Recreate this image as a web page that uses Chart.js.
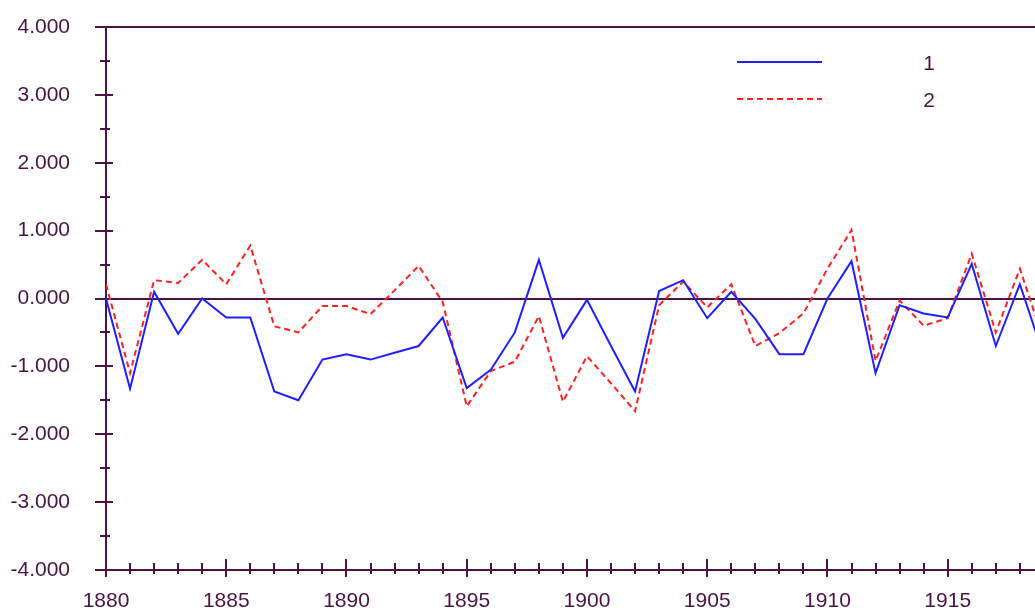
<!DOCTYPE html>
<html>
<head>
<meta charset="utf-8">
<script src="https://cdn.jsdelivr.net/npm/chart.js@4.4.0/dist/chart.umd.min.js"></script>
<style>
body{margin:0;background:#fff;}
</style>
</head>
<body>
<canvas id="mycanvas" width="1035" height="612"></canvas>
<script>
var years = [1880,1881,1882,1883,1884,1885,1886,1887,1888,1889,
	1890,1891,1892,1893,1894,1895,1896,1897,1898,1899,
	1900,1901,1902,1903,1904,1905,1906,1907,1908,1909,
	1910,1911,1912,1913,1914,1915,1916,1917,1918,1919];
var series1 = [0.0,-1.33,0.1,-0.52,0.0,-0.28,-0.28,-1.37,-1.5,-0.9,
	-0.82,-0.9,-0.8,-0.7,-0.28,-1.32,-1.05,-0.5,0.57,-0.58,
	-0.02,-0.7,-1.37,0.11,0.27,-0.29,0.1,-0.3,-0.82,-0.82,
	0.0,0.55,-1.1,-0.1,-0.22,-0.28,0.51,-0.7,0.21,-0.85];
var series2 = [0.21,-1.1,0.27,0.23,0.57,0.21,0.78,-0.41,-0.5,-0.11,
	-0.11,-0.23,0.12,0.48,-0.05,-1.59,-1.07,-0.93,-0.26,-1.52,
	-0.85,-1.25,-1.66,-0.1,0.25,-0.13,0.21,-0.7,-0.51,-0.22,
	0.44,1.01,-0.92,-0.03,-0.4,-0.29,0.66,-0.5,0.44,-0.63];
var seriesNames = ['1','2'];
var yMin = -4, yMax = 4;
var xMin = 1880, xMax = 1918.63;

var axisColor = '#4a1446';
var fontFamily = '"Liberation Sans", Arial, sans-serif';

function toPoints(vals) {
	var pts = [];
	for (var i in years) {
		pts.push({x: years[i], y: vals[i]});
	}
	return pts;
}

var axesPlugin = {
	id: 'axes',
	beforeDatasetsDraw: function(chart) {
		var ctx = chart.ctx;
		var xs = chart.scales.x, ys = chart.scales.y;
		var a = chart.chartArea;
		var x0 = Math.round(xs.getPixelForValue(xMin));
		var yb = Math.round(ys.getPixelForValue(yMin));
		var yt = Math.round(ys.getPixelForValue(yMax));
		var yz = Math.round(ys.getPixelForValue(0));
		ctx.save();
		ctx.strokeStyle = axisColor;
		ctx.lineWidth = 2;
		ctx.beginPath();
		// frame lines
		ctx.moveTo(x0, yt); ctx.lineTo(x0, yb);
		ctx.moveTo(x0 - 11, yb); ctx.lineTo(a.right, yb);
		ctx.moveTo(x0 - 11, yt); ctx.lineTo(a.right, yt);
		ctx.moveTo(x0 - 11, yz); ctx.lineTo(a.right, yz);
		// y ticks
		for (var v = yMin; v <= yMax; v += 0.5) {
			var py = Math.round(ys.getPixelForValue(v));
			if (v % 1 === 0) {
				ctx.moveTo(x0 - 11, py); ctx.lineTo(x0 + 7, py);
			} else {
				ctx.moveTo(x0 - 6, py); ctx.lineTo(x0 + 4, py);
			}
		}
		// x ticks
		for (var yr = xMin; yr <= xMax; yr++) {
			var px = Math.round(xs.getPixelForValue(yr));
			if (yr % 5 === 0) {
				ctx.moveTo(px, yb - 11); ctx.lineTo(px, yb + 7);
			} else {
				ctx.moveTo(px, yb - 7); ctx.lineTo(px, yb + 4);
			}
		}
		ctx.stroke();
		ctx.restore();
	},
	afterDraw: function(chart) {
		var ctx = chart.ctx;
		ctx.save();
		var rows = [{y: 62, color: '#2020ff', dash: []}, {y: 99, color: '#ff2020', dash: [6, 4]}];
		for (var i = 0; i < rows.length; i++) {
			ctx.strokeStyle = rows[i].color;
			ctx.lineWidth = 2;
			ctx.setLineDash(rows[i].dash);
			ctx.beginPath();
			ctx.moveTo(737, rows[i].y);
			ctx.lineTo(822, rows[i].y);
			ctx.stroke();
			ctx.setLineDash([]);
			ctx.fillStyle = axisColor;
			ctx.font = '21px ' + fontFamily;
			ctx.textAlign = 'center';
			ctx.textBaseline = 'middle';
			ctx.fillText(seriesNames[i], 929, rows[i].y + 2);
		}
		ctx.restore();
	}
};

var ctx = document.getElementById('mycanvas');

var lineChart = new Chart(ctx, {
	type: 'line',
	data: {
		datasets: [
			{
				label: seriesNames[0],
				data: toPoints(series1),
				borderColor: '#2020ff',
				borderWidth: 2,
				pointRadius: 0,
				tension: 0,
				fill: false
			},
			{
				label: seriesNames[1],
				data: toPoints(series2),
				borderColor: '#ff2020',
				borderWidth: 2,
				borderDash: [6, 4],
				pointRadius: 0,
				tension: 0,
				fill: false
			}
		]
	},
	options: {
		responsive: false,
		animation: false,
		layout: {padding: {top: 27, right: 0, bottom: 0, left: 0}},
		plugins: {
			legend: {display: false},
			tooltip: {enabled: false}
		},
		scales: {
			x: {
				type: 'linear',
				min: xMin,
				max: xMax,
				grid: {display: false, drawTicks: false},
				border: {display: false},
				afterFit: function(s) {
					s.height = 42;
					s.paddingLeft = 0;
					s.paddingRight = 0;
				},
				ticks: {
					stepSize: 5,
					includeBounds: false,
					autoSkip: false,
					maxRotation: 0,
					padding: 19,
					color: axisColor,
					font: {family: fontFamily, size: 21},
					callback: function(v) { return String(v); }
				}
			},
			y: {
				min: yMin,
				max: yMax,
				grid: {display: false, drawTicks: false},
				border: {display: false},
				afterFit: function(s) {
					s.width = 106;
					s.paddingTop = 0;
					s.paddingBottom = 0;
				},
				ticks: {
					stepSize: 1,
					padding: 36,
					color: axisColor,
					font: {family: fontFamily, size: 21},
					callback: function(v) { return v.toFixed(3); }
				}
			}
		}
	},
	plugins: [axesPlugin]
});
</script>
</body>
</html>
